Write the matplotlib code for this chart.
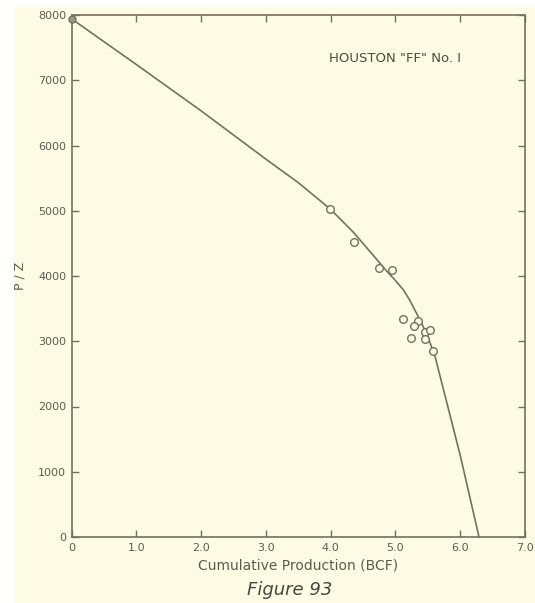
import matplotlib
matplotlib.use("Agg")
import matplotlib.pyplot as plt
from matplotlib.patches import Rectangle

# measured P/Z points (cumulative production in BCF, P/Z)
prod_pts = [0.0, 3.99, 4.36, 4.75, 4.95, 5.12, 5.35, 5.28, 5.46, 5.54, 5.24, 5.45, 5.58]
pz_pts = [7940, 5022, 4526, 4120, 4092, 3336, 3315, 3234, 3142, 3168, 3054, 3030, 2855]

# hand-drawn trend curve
curve_x = [0.0, 1.0, 2.0, 3.0, 3.5, 3.83, 4.0, 4.35, 4.61, 4.86, 5.0, 5.12, 5.22,
           5.33, 5.48, 5.61, 5.79, 6.0, 6.29]
curve_y = [7940, 7240, 6530, 5790, 5430, 5160, 5020, 4670, 4370, 4080, 3930, 3790, 3630,
           3420, 3120, 2770, 2070, 1250, 0]

x_ticks = [0, 1, 2, 3, 4, 5, 6, 7]
x_labels = ["0", "1.0", "2.0", "3.0", "4.0", "5.0", "6.0", "7.0"]
y_ticks = [0, 1000, 2000, 3000, 4000, 5000, 6000, 7000, 8000]

paper = "#fdfbe4"
ink = "#75705f"
text_c = "#5f5b50"

fig = plt.figure(figsize=(5.35, 6.03), dpi=100)
fig.patch.set_facecolor("white")
# cream paper area of the scan
fig.patches.append(Rectangle((15 / 535, 0), 1, 1 - 7 / 603, transform=fig.transFigure,
                             facecolor=paper, edgecolor="none", zorder=-10))

ax = fig.add_axes([71.7 / 535, 66 / 603, (525 - 71.7) / 535, (537 - 15) / 603])
ax.set_facecolor(paper)

ax.plot(curve_x, curve_y, color=ink, lw=1.2, clip_on=False, zorder=2,
        solid_joinstyle="round")
ax.plot(prod_pts[1:], pz_pts[1:], "o", ms=5.5, mfc=paper, mec=ink, mew=1.0, zorder=3)
ax.plot(prod_pts[:1], pz_pts[:1], "o", ms=5, mfc="#9c9888", mec=ink, mew=1.0, clip_on=False, zorder=3)

ax.set_xlim(0, 7)
ax.set_ylim(0, 8000)
ax.set_xticks(x_ticks)
ax.set_xticklabels(x_labels)
ax.set_yticks(y_ticks)

for s in ax.spines.values():
    s.set_color(ink)
    s.set_linewidth(1.2)
ax.tick_params(direction="in", length=5, width=1, color=ink, labelcolor=text_c,
               labelsize=8, top=True, right=True, pad=4)

ax.set_xlabel("Cumulative Production (BCF)", fontsize=10, color=text_c, labelpad=4)
ax.set_ylabel("P / Z", fontsize=9, color=text_c, labelpad=8)

ax.text(5.0, 7330, 'HOUSTON "FF" No. I', fontsize=9.5, color="#4f4b42",
        ha="center", va="center")

fig.text(290 / 535, 1 - 590 / 603, "Figure 93", fontsize=13, style="italic",
         color="#4a463e", ha="center", va="center")

fig.savefig("out.png", dpi=100, facecolor=fig.get_facecolor())
